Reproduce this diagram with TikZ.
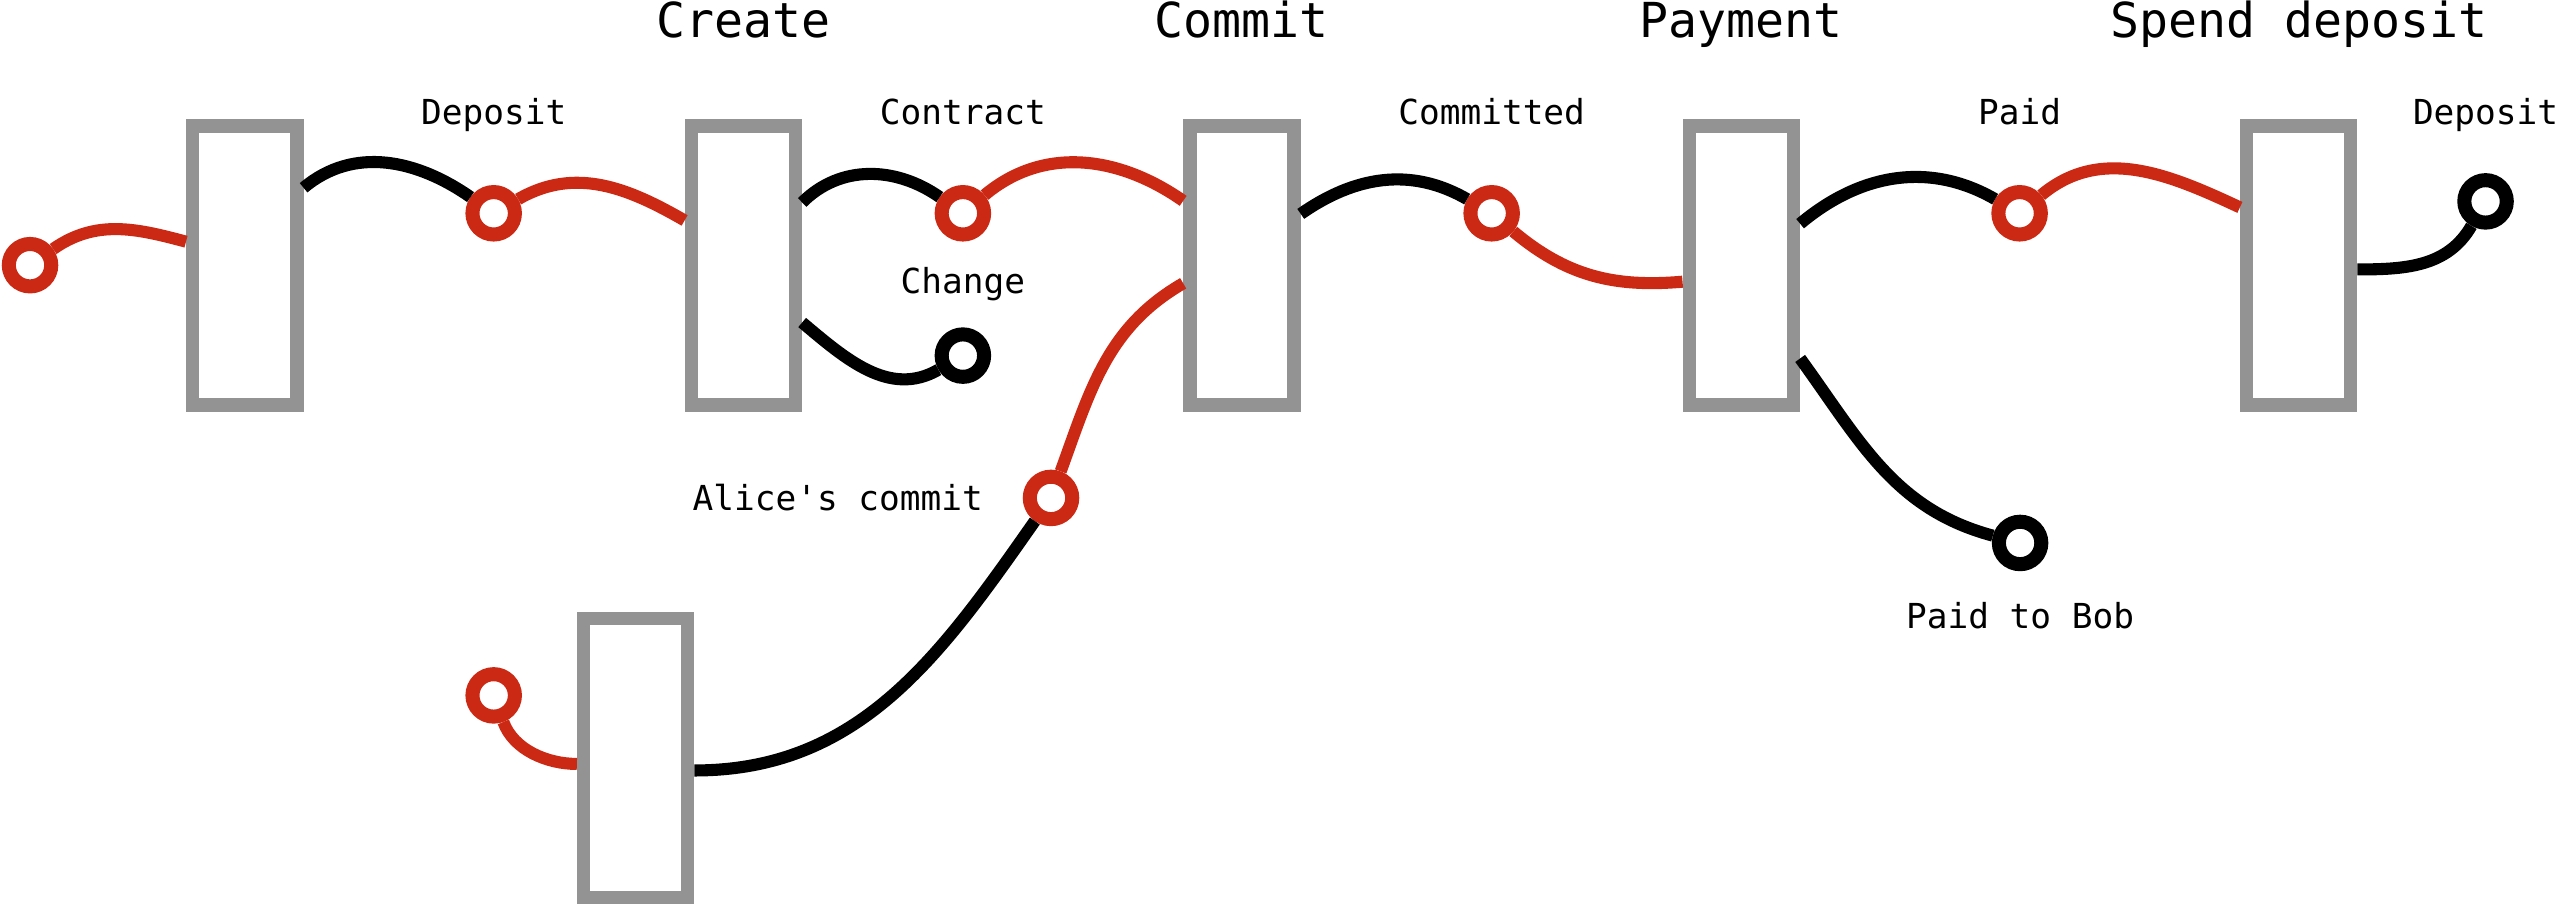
\documentclass[tikz,border=0pt]{standalone}
\usepackage{fontspec}
\setmonofont{DejaVu Sans Mono}
\usetikzlibrary{positioning}
\definecolor{txred}{HTML}{CC2914}
\definecolor{txgray}{HTML}{939393}

\begin{document}
\begin{tikzpicture}[x=0.01cm, y=0.01cm,
  tx/.style={draw=txgray, line width=0.082cm, minimum width=0.638cm, minimum height=1.708cm, inner sep=0pt},
  coin/.style={circle, draw, fill=white, line width=0.086cm, minimum size=0.26cm, inner sep=0pt},
  redcoin/.style={coin, draw=txred},
  wire/.style={line width=0.074cm},
  redwire/.style={wire, draw=txred},
  title/.style={font=\ttfamily\fontsize{8.4}{10}\selectfont},
  tag/.style={font=\ttfamily\fontsize{6}{7}\selectfont}]

\useasboundingbox (0,0) rectangle (1568,555.1);

%Transactions
\node (fund) [tx] at (150,392.5) {};
\node (create) [tx] at (455.5,392.5) {};
\node (commit) [tx] at (761,392.5) {};
\node (payment) [tx] at (1067,392.5) {};
\node (spend) [tx] at (1408.5,392.5) {};
\node (alice) [tx] at (389.5,90.5) {};

%Names of the transactions
\node (createname) [above=0.5cm of create, title, anchor=base] {Create};
\node (commitname) [above=0.5cm of commit, title, anchor=base] {Commit};
\node (paymentname) [above=0.5cm of payment, title, anchor=base] {Payment};
\node (spendname) [above=0.5cm of spend, title, anchor=base] {Spend deposit};

%Outputs
\node (fundin) [redcoin] at (18.4,392.6) {};
\node (deposit) [redcoin] at (302.5,424.4) {};
\node (contract) [redcoin] at (590,424.4) {};
\node (change) [coin] at (590,337.2) {};
\node (committed) [redcoin] at (914,424.4) {};
\node (paid) [redcoin] at (1237.5,424.4) {};
\node (refund) [coin] at (1523,431.7) {};
\node (alicecommit) [redcoin] at (644,250) {};
\node (alicein) [redcoin] at (302.5,129) {};
\node (bob) [coin] at (1237.8,222.4) {};

%Names of the outputs
\node (depositname) [above=0.37cm of deposit, tag, anchor=base] {Deposit};
\node (contractname) [above=0.37cm of contract, tag, anchor=base] {Contract};
\node (changename) [above=0.21cm of change, tag, anchor=base] {Change};
\node (committedname) [above=0.37cm of committed, tag, anchor=base] {Committed};
\node (paidname) [above=0.37cm of paid, tag, anchor=base] {Paid};
\node (refundname) [above=0.295cm of refund, tag, anchor=base] {Deposit};
\node (alicecommitname) [left=0.12cm of alicecommit, tag] {Alice's commit};
\node (bobname) [below=0.35cm of bob, tag, anchor=base] {Paid to Bob};

%Wires
\draw[redwire] (fundin) to[out=35, in=165] ([yshift=0.145cm]fund.west);
\draw[wire] ([yshift=0.475cm]fund.east) to[out=40, in=145] (deposit);
\draw[redwire] (deposit) to[out=30, in=150] ([yshift=0.275cm]create.west);
\draw[wire] ([yshift=0.385cm]create.east) to[out=45, in=145] (contract);
\draw[wire] ([yshift=-0.35cm]create.east) to[out=-40, in=210] (change);
\draw[redwire] (contract) to[out=40, in=145] ([yshift=0.395cm]commit.west);
\draw[redwire] ([yshift=-0.11cm]commit.west) to[out=210, in=70] (alicecommit);
\draw[wire] (alicecommit) to[out=235, in=0] ([yshift=-0.075cm]alice.east);
\draw[redwire] (alicein) to[out=-70, in=180, looseness=0.9] ([yshift=-0.035cm]alice.west);
\draw[wire] ([yshift=0.315cm]commit.east) to[out=35, in=150] (committed);
\draw[redwire] (committed) to[out=-40, in=185] ([yshift=-0.10cm]payment.west);
\draw[wire] ([yshift=0.255cm]payment.east) to[out=40, in=150] (paid);
\draw[wire] ([yshift=-0.57cm]payment.east) to[out=-54, in=165] (bob);
\draw[redwire] (paid) to[out=40, in=155] ([yshift=0.355cm]spend.west);
\draw[wire] ([yshift=-0.025cm]spend.east) to[out=0, in=240] (refund);

\end{tikzpicture}
\end{document}
